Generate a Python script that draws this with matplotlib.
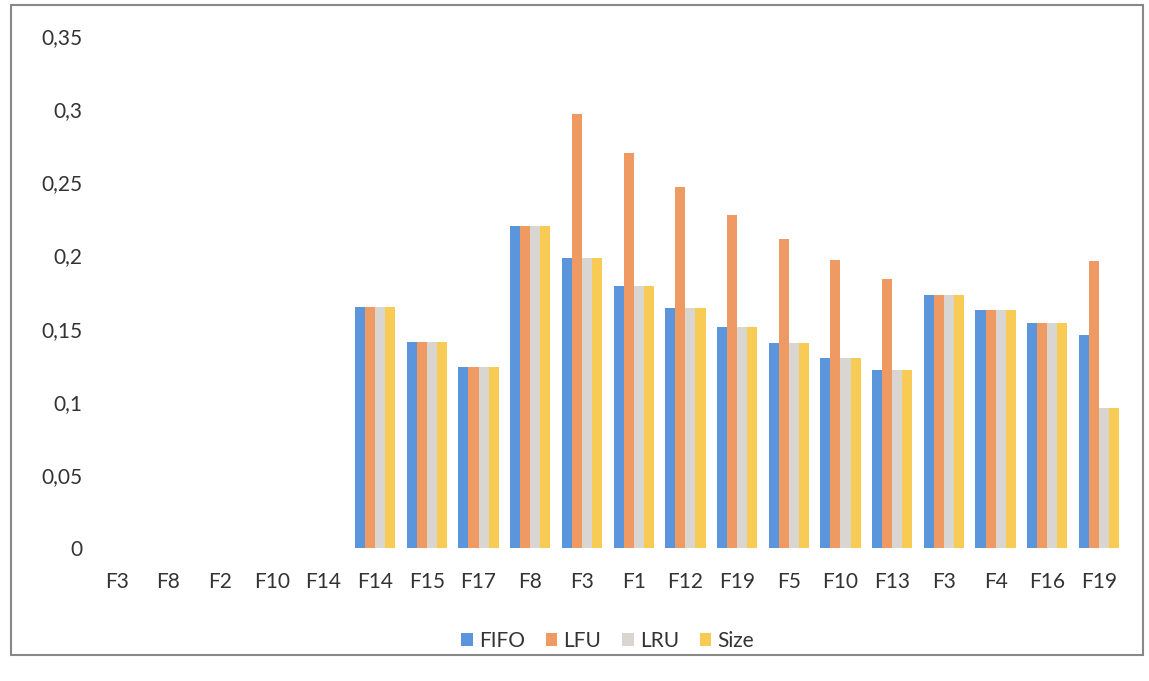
import numpy as np
import matplotlib.pyplot as plt
from matplotlib.patches import Rectangle

# categories and series values
categories = ['F3', 'F8', 'F2', 'F10', 'F14', 'F14', 'F15', 'F17', 'F8', 'F3',
              'F1', 'F12', 'F19', 'F5', 'F10', 'F13', 'F3', 'F4', 'F16', 'F19']
fifo = [0, 0, 0, 0, 0, 0.165, 0.141, 0.124, 0.220, 0.198,
        0.179, 0.164, 0.151, 0.140, 0.130, 0.122, 0.173, 0.163, 0.154, 0.146]
lfu = [0, 0, 0, 0, 0, 0.165, 0.141, 0.124, 0.220, 0.297,
       0.270, 0.247, 0.228, 0.211, 0.197, 0.184, 0.173, 0.163, 0.154, 0.196]
lru = [0, 0, 0, 0, 0, 0.165, 0.141, 0.124, 0.220, 0.198,
       0.179, 0.164, 0.151, 0.140, 0.130, 0.122, 0.173, 0.163, 0.154, 0.096]
size = [0, 0, 0, 0, 0, 0.165, 0.141, 0.124, 0.220, 0.198,
        0.179, 0.164, 0.151, 0.140, 0.130, 0.122, 0.173, 0.163, 0.154, 0.096]

series = {'FIFO': fifo, 'LFU': lfu, 'LRU': lru, 'Size': size}
colors = ['#5b96dc', '#ef9a62', '#d9d6d1', '#f8cb55']

plt.rcParams['font.family'] = ['Lato', 'DejaVu Sans']

fig = plt.figure(figsize=(11.49, 6.81), dpi=100)
ax = fig.add_axes([0.079, 0.195, 0.900, 0.752])

x = np.arange(len(categories))
w = 0.195
for i, (name, vals) in enumerate(series.items()):
    ax.bar(x + (i - 1.5) * w, vals, width=w, color=colors[i], label=name)

ax.set_xlim(-0.5, len(categories) - 0.5)
ax.set_ylim(0, 0.35)
ax.set_yticks(np.arange(0, 0.351, 0.05))
ax.set_yticklabels(['0', '0,05', '0,1', '0,15', '0,2', '0,25', '0,3', '0,35'])
ax.set_xticks(x)
ax.set_xticklabels(categories)
ax.tick_params(length=0, labelsize=15, colors='#333333')
ax.tick_params(axis='x', pad=17)
ax.tick_params(axis='y', pad=6)
for s in ax.spines.values():
    s.set_visible(False)

ax.legend(loc='upper center', bbox_to_anchor=(0.5, -0.125), ncol=4, frameon=False,
          fontsize=15, handlelength=0.55, handleheight=0.55, handletextpad=0.3,
          columnspacing=1.0, labelcolor='#333333')

# chart area border
fig.patches.append(Rectangle((0.010, 0.038), 0.985, 0.955, transform=fig.transFigure,
                             fill=False, edgecolor='#888888', linewidth=1.5))

fig.savefig('out.png', dpi=100)
